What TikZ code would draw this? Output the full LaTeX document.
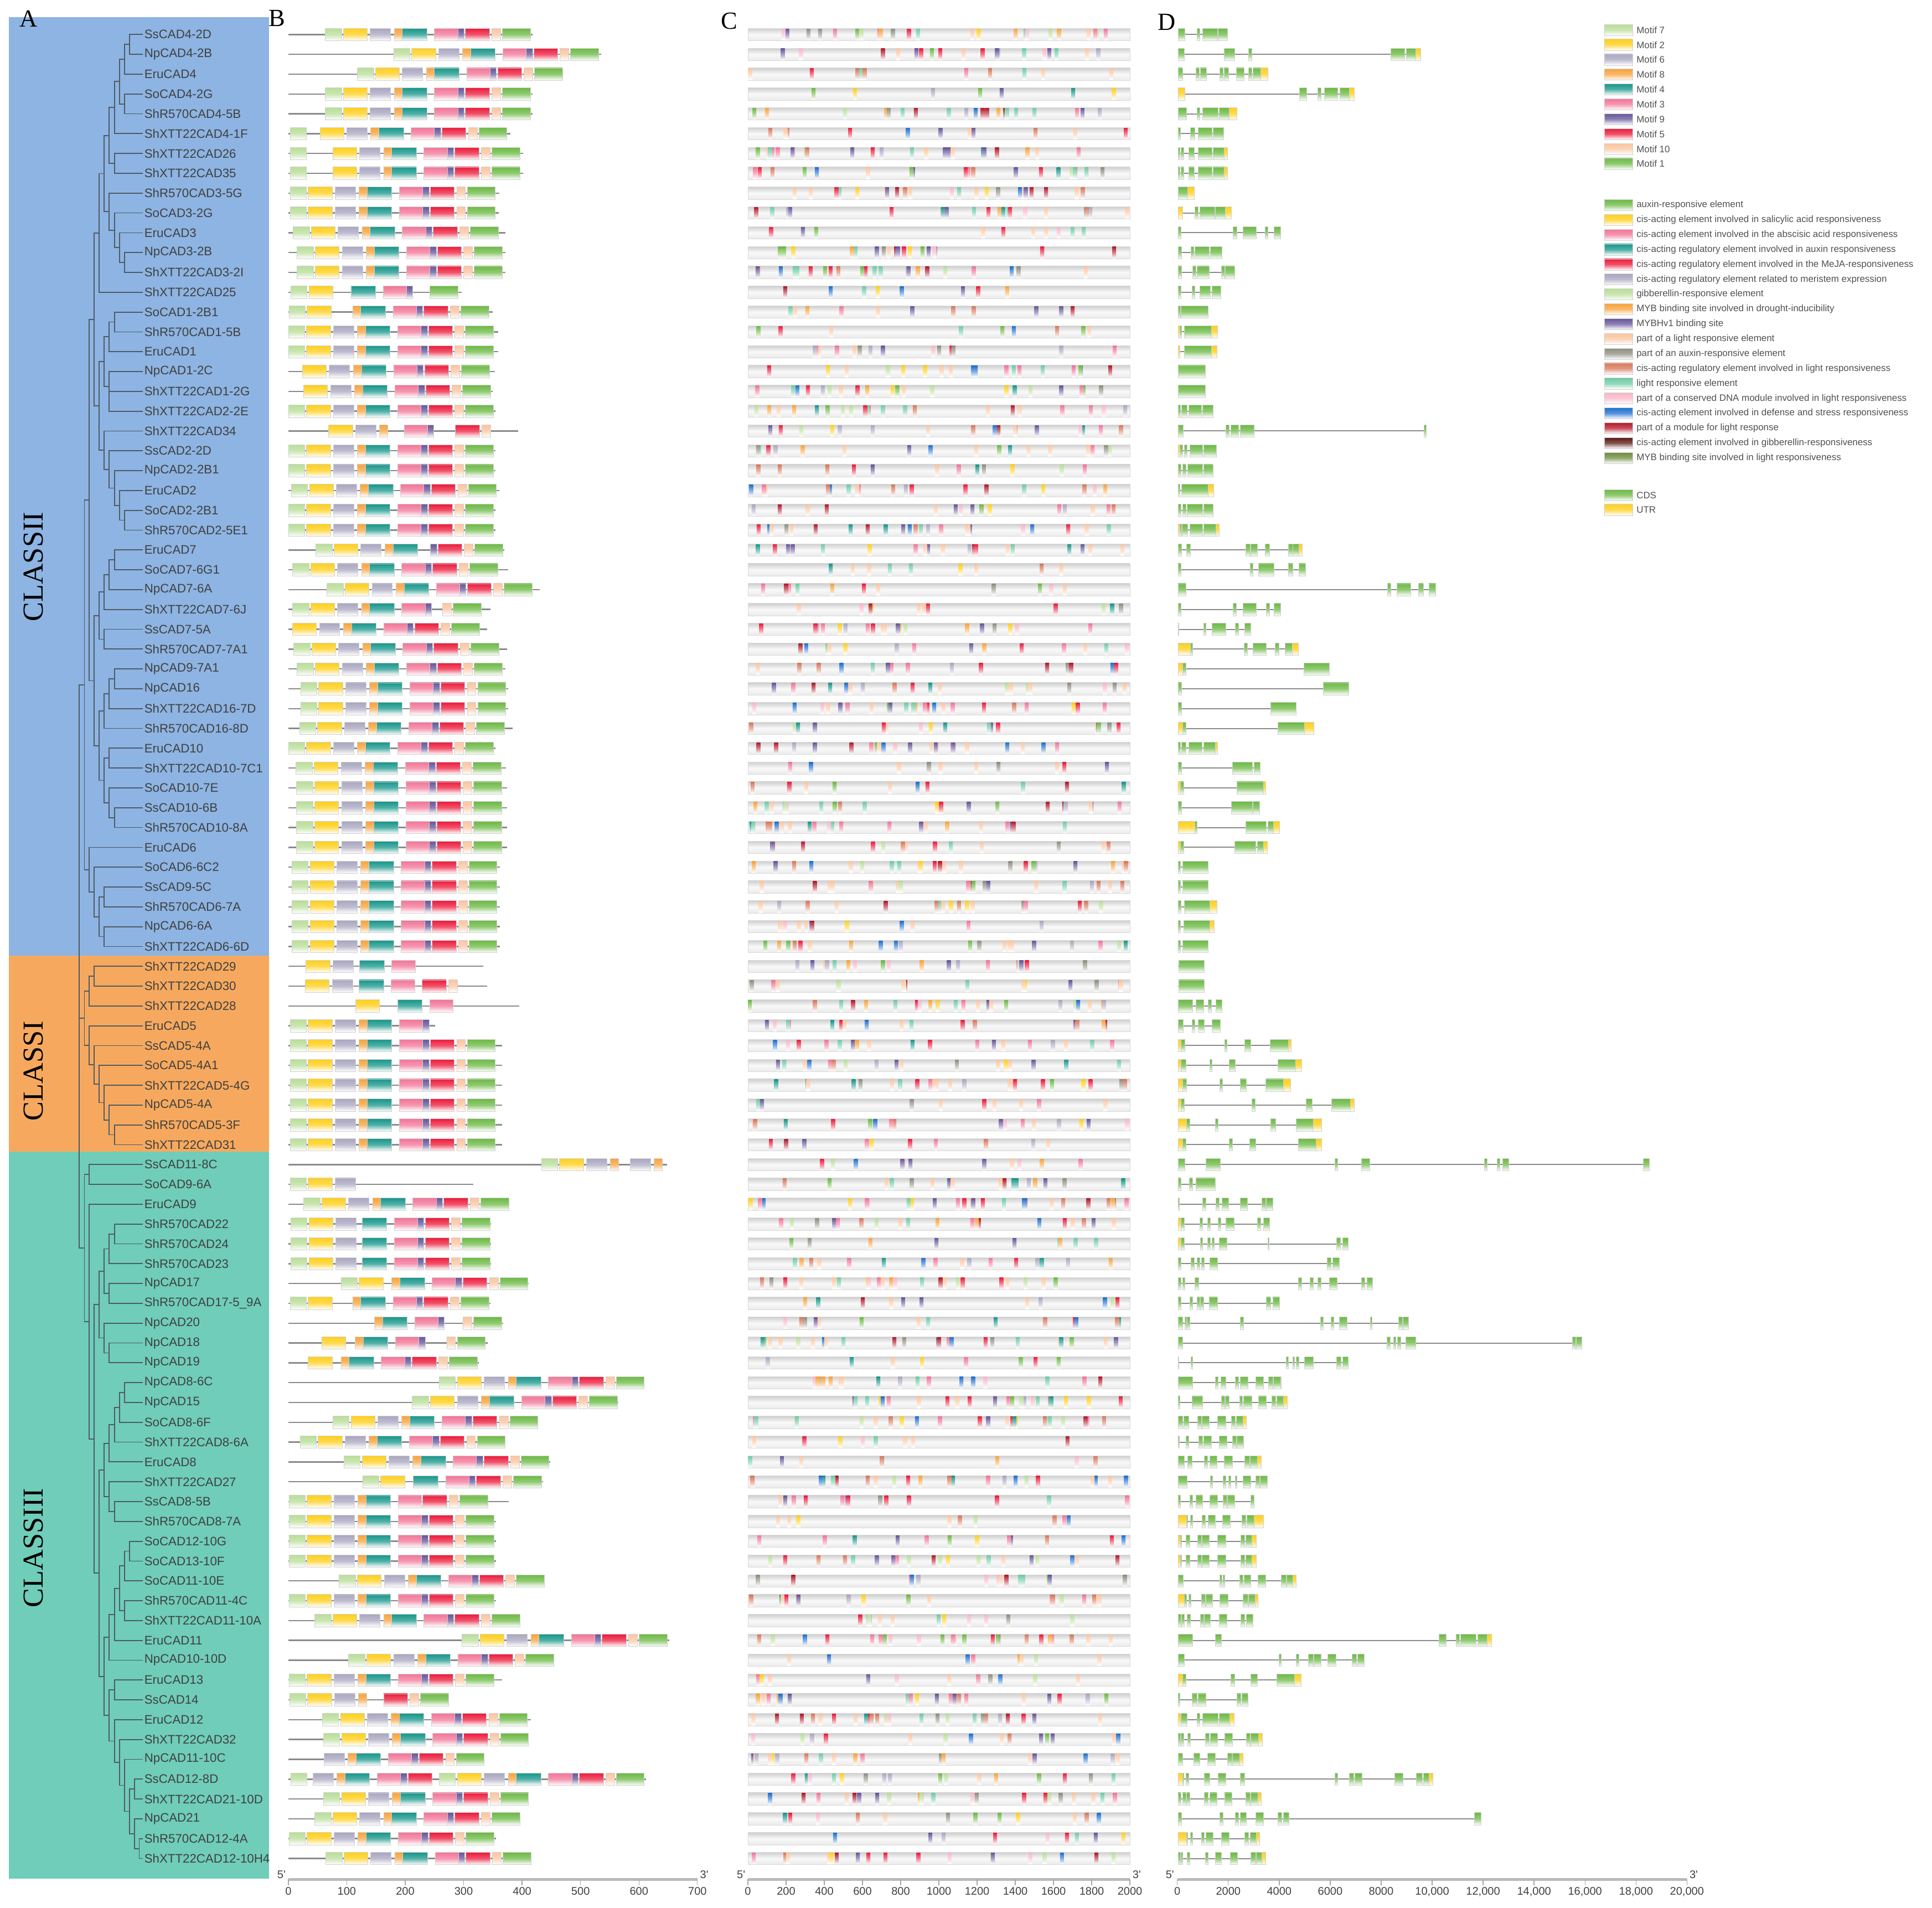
\documentclass[tikz,border=0pt]{standalone}
\usepackage{fontspec}
\setmainfont{Liberation Serif}
\newfontfamily\sansf{Liberation Sans}
\usetikzlibrary{calc}

\definecolor{clsII}{HTML}{8DB4E2}
\definecolor{clsI}{HTML}{F6A95E}
\definecolor{clsIII}{HTML}{6FCDBA}
\definecolor{treegray}{HTML}{4F5A66}
\definecolor{labgray}{HTML}{404040}
\definecolor{leggray}{HTML}{505050}
\definecolor{boxline}{HTML}{D0D0D0}
\definecolor{bonegray}{HTML}{8A8A8A}
\definecolor{mcol7}{HTML}{B9DE98}
\definecolor{mcol2}{HTML}{FFCF1A}
\definecolor{mcol6}{HTML}{A9A6C0}
\definecolor{mcol8}{HTML}{F8A33A}
\definecolor{mcol4}{HTML}{17968A}
\definecolor{mcol3}{HTML}{F27597}
\definecolor{mcol9}{HTML}{66569A}
\definecolor{mcol5}{HTML}{EC1B3B}
\definecolor{mcol10}{HTML}{FBC5A0}
\definecolor{mcol1}{HTML}{6CB944}
\definecolor{ec1}{HTML}{6CB944}
\definecolor{ec2}{HTML}{FFCF1A}
\definecolor{ec3}{HTML}{F27597}
\definecolor{ec4}{HTML}{17968A}
\definecolor{ec5}{HTML}{EC1B3B}
\definecolor{ec6}{HTML}{A9A6C0}
\definecolor{ec7}{HTML}{B9DE98}
\definecolor{ec8}{HTML}{F8A33A}
\definecolor{ec9}{HTML}{66569A}
\definecolor{ec10}{HTML}{FBC5A0}
\definecolor{ec11}{HTML}{8E8E80}
\definecolor{ec12}{HTML}{D9775A}
\definecolor{ec13}{HTML}{6FCBA5}
\definecolor{ec14}{HTML}{F7B6C8}
\definecolor{ec15}{HTML}{1F6FD0}
\definecolor{ec16}{HTML}{B3182A}
\definecolor{ec17}{HTML}{5A1A12}
\definecolor{ec18}{HTML}{6E8B3D}
\definecolor{xc}{HTML}{6CB944}
\definecolor{xu}{HTML}{FFCF1A}
\colorlet{cc1}{ec10}\colorlet{cc2}{ec10}\colorlet{cc3}{ec10}\colorlet{cc4}{ec3}
\colorlet{cc5}{ec3}\colorlet{cc6}{ec5}\colorlet{cc7}{ec5}\colorlet{cc8}{ec7}
\colorlet{cc9}{ec9}\colorlet{cc10}{ec1}\colorlet{cc11}{ec13}\colorlet{cc12}{ec13}
\colorlet{cc13}{ec8}\colorlet{cc14}{ec6}\colorlet{cc15}{ec9}\colorlet{cc16}{ec2}
\colorlet{cc17}{ec4}\colorlet{cc18}{ec12}\colorlet{cc19}{ec12}\colorlet{cc20}{ec14}
\colorlet{cc21}{ec15}\colorlet{cc22}{ec16}\colorlet{cc23}{ec11}\colorlet{cc24}{ec10}

\tikzset{
  branch/.style={draw=treegray, line width=0.8pt},
  gene/.style={anchor=west, inner sep=1pt, text=labgray, font=\sansf\fontsize{10}{10}\selectfont},
  classlab/.style={rotate=90, inner sep=0pt, font=\fontsize{23.5}{24}\selectfont},
  panlab/.style={inner sep=0pt, font=\fontsize{20}{20}\selectfont},
  blk/.style={draw=boxline, line width=0.25pt, top color=#1, bottom color=white, middle color=#1!75!white},
  tick/.style={top color=#1, bottom color=white, middle color=#1!55!white, draw=none},
  bone/.style={draw=bonegray, line width=1.1pt},
  intron/.style={draw=bonegray, line width=0.9pt},
  cbar/.style={draw=gray!30, line width=0.3pt, top color=gray!38, bottom color=gray!16, middle color=gray!5},
  legtxt/.style={anchor=west, inner sep=0pt, text=leggray, font=\sansf\fontsize{7.6}{8}\selectfont},
  axlab/.style={inner sep=1pt, text=labgray, font=\sansf\fontsize{9}{9}\selectfont},
  axline/.style={draw=gray!55, line width=2pt},
  axtick/.style={draw=gray!70, line width=0.6pt},
}

\newcommand\ry[1]{(28+(#1-1)*16.087)}
\newcommand\clade[4]{%
  \path let \p1=(#3), \p2=(#4) in coordinate (#1) at (#2,{(\y1+\y2)/2});
  \draw[branch] (#1) |- (#3);
  \draw[branch] (#1) |- (#4);}

\def\motdef#1#2#3{\expandafter\def\csname motrel#1\endcsname{#2}\expandafter\def\csname motlen#1\endcsname{#3}}
\motdef{7}{0}{28}\motdef{2}{31}{41}\motdef{6}{77}{35}\motdef{8}{118}{14}\motdef{4}{132}{42}
\motdef{3}{187}{40}\motdef{9}{227}{11}\motdef{5}{240}{41}\motdef{10}{285}{15}\motdef{1}{303}{48}
\def\full{7,2,6,8,4,3,9,5,10,1}
\def\nosev{2,6,8,4,3,9,5,10,1}
\newcommand\motifs[3]{%
  \edef\mlist{#3}%
  \foreach \m in \mlist {%
    \pgfmathsetmacro\xa{#2+\csname motrel\m\endcsname}%
    \pgfmathsetmacro\xb{\xa+\csname motlen\m\endcsname}%
    \draw[blk=mcol\m] (\xa,{\ry{#1}-5}) rectangle (\xb,{\ry{#1}+5});
  }}
\newcommand\prot[4]{%
  \draw[bone] (0,{\ry{#1}}) -- (#2,{\ry{#1}});
  \motifs{#1}{#3}{#4}}
\newcommand\gene[3]{%
  \draw[intron] (30,{\ry{#1}}) -- (#2,{\ry{#1}});
  \foreach \sa/\eb/\ty in {#3} {\draw[blk=x\ty] (\sa,{\ry{#1}-5}) rectangle (\eb,{\ry{#1}+5});}}

\begin{document}
\begin{tikzpicture}[x=1pt, y=-1pt]
\useasboundingbox (0,0) rectangle (1568,1548);

% class backgrounds
\fill[clsII] (7,14) rectangle (218.5,775.5);
\fill[clsI] (7,775.5) rectangle (218.5,934.5);
\fill[clsIII] (7,934.5) rectangle (218.5,1524.5);

\node[panlab] (pA) at (23,15) {A};
\node[panlab] (pB) at (225,15) {B};
\node[panlab] (pC) at (592,17) {C};
\node[panlab] (pD) at (947,18) {D};

\node[classlab] (cII) at (27,460) {CLASSII};
\node[classlab] (cI) at (27,869) {CLASSI};
\node[classlab] (cIII) at (27,1256) {CLASSIII};

\foreach \nm [count=\ii] in {SsCAD4-2D,NpCAD4-2B,EruCAD4,SoCAD4-2G,ShR570CAD4-5B,ShXTT22CAD4-1F,
  ShXTT22CAD26,ShXTT22CAD35,ShR570CAD3-5G,SoCAD3-2G,EruCAD3,NpCAD3-2B,ShXTT22CAD3-2I,ShXTT22CAD25,
  SoCAD1-2B1,ShR570CAD1-5B,EruCAD1,NpCAD1-2C,ShXTT22CAD1-2G,ShXTT22CAD2-2E,ShXTT22CAD34,SsCAD2-2D,
  NpCAD2-2B1,EruCAD2,SoCAD2-2B1,ShR570CAD2-5E1,EruCAD7,SoCAD7-6G1,NpCAD7-6A,ShXTT22CAD7-6J,SsCAD7-5A,
  ShR570CAD7-7A1,NpCAD9-7A1,NpCAD16,ShXTT22CAD16-7D,ShR570CAD16-8D,EruCAD10,ShXTT22CAD10-7C1,
  SoCAD10-7E,SsCAD10-6B,ShR570CAD10-8A,EruCAD6,SoCAD6-6C2,SsCAD9-5C,ShR570CAD6-7A,NpCAD6-6A,
  ShXTT22CAD6-6D,ShXTT22CAD29,ShXTT22CAD30,ShXTT22CAD28,EruCAD5,SsCAD5-4A,SoCAD5-4A1,ShXTT22CAD5-4G,
  NpCAD5-4A,ShR570CAD5-3F,ShXTT22CAD31,SsCAD11-8C,SoCAD9-6A,EruCAD9,ShR570CAD22,ShR570CAD24,
  ShR570CAD23,NpCAD17,ShR570CAD17-5\_9A,NpCAD20,NpCAD18,NpCAD19,NpCAD8-6C,NpCAD15,SoCAD8-6F,
  ShXTT22CAD8-6A,EruCAD8,ShXTT22CAD27,SsCAD8-5B,ShR570CAD8-7A,SoCAD12-10G,SoCAD13-10F,SoCAD11-10E,
  ShR570CAD11-4C,ShXTT22CAD11-10A,EruCAD11,NpCAD10-10D,EruCAD13,SsCAD14,EruCAD12,ShXTT22CAD32,
  NpCAD11-10C,SsCAD12-8D,ShXTT22CAD21-10D,NpCAD21,ShR570CAD12-4A,ShXTT22CAD12-10H4}
  \node[gene] (g\ii) at (116,{\ry{\ii}}) {\nm};

% tree
\clade{a1}{105}{g1}{g2}\clade{a2}{101}{a1}{g3}\clade{a3}{101}{g4}{g5}\clade{a4}{97}{a2}{a3}
\clade{a5}{93}{a4}{g6}\clade{a6}{93}{g7}{g8}\clade{a7}{88.6}{a5}{a6}
\clade{b1}{101}{g12}{g13}\clade{b2}{97}{g11}{b1}\clade{b3}{93}{g10}{b2}\clade{b4}{88.6}{g9}{b3}
\clade{a8}{84.6}{a7}{b4}\clade{a9}{80.5}{a8}{g14}
\clade{c1}{93}{g15}{g16}\clade{c2}{88.6}{c1}{g17}\clade{c3}{88.6}{g19}{g20}\clade{c4}{88.6}{g18}{c3}
\clade{c5}{84.6}{c2}{c4}
\clade{d1}{101}{g25}{g26}\clade{d2}{97}{g24}{d1}\clade{d3}{93}{g23}{d2}\clade{d4}{88.6}{g22}{d3}
\clade{d5}{84.6}{g21}{d4}\clade{c6}{80.5}{c5}{d5}\clade{e1}{76.5}{a9}{c6}
\clade{f1}{93}{g27}{g28}\clade{f2}{88.6}{f1}{g29}\clade{f3}{84.6}{f2}{g30}\clade{f4}{84.6}{g31}{g32}
\clade{f5}{80.5}{f3}{f4}
\clade{j1}{93}{g33}{g34}\clade{j2}{88.6}{j1}{g35}\clade{j3}{84.6}{j2}{g36}
\clade{h1}{88.6}{g37}{g38}\clade{h2}{93}{g40}{g41}\clade{h3}{88.6}{g39}{h2}\clade{h4}{84.6}{h1}{h3}
\clade{j4}{80.5}{j3}{h4}\clade{f6}{76.5}{f5}{j4}\clade{k1}{72.5}{e1}{f6}
\clade{m1}{84.6}{g44}{g45}\clade{m2}{84.6}{g46}{g47}\clade{m3}{80.5}{m1}{m2}\clade{m4}{76.5}{g43}{m3}
\clade{m5}{72.5}{g42}{m4}\clade{k2}{68.5}{k1}{m5}
\clade{p1}{76.5}{g48}{g49}\clade{p2}{72.5}{p1}{g50}
\clade{q1}{93}{g56}{g57}\clade{q2}{88.6}{g55}{q1}\clade{q3}{84.6}{g54}{q2}\clade{q4}{80.5}{g53}{q3}
\clade{q5}{76.5}{g52}{q4}\clade{q6}{72.5}{g51}{q5}\clade{p3}{68.5}{p2}{q6}
\clade{y1}{72.5}{g58}{g59}
\clade{r1}{93}{g61}{g62}\clade{r2}{88.6}{r1}{g63}\clade{r3}{88.6}{g64}{g65}\clade{r4}{84.6}{r2}{r3}
\clade{r5}{88.6}{g67}{g68}\clade{r6}{84.6}{g66}{r5}\clade{r7}{80.5}{r4}{r6}
\clade{s1}{101}{g69}{g70}\clade{s2}{97}{s1}{g71}\clade{s3}{93}{s2}{g72}\clade{s4}{88.6}{s3}{g73}
\clade{s5}{93}{g75}{g76}\clade{s6}{88.6}{g74}{s5}\clade{s7}{84.6}{s4}{s6}
\clade{u1}{105}{g77}{g78}\clade{u2}{101}{u1}{g79}\clade{u3}{101}{g80}{g81}\clade{u4}{97}{u2}{u3}
\clade{u5}{93}{u4}{g82}\clade{u6}{88.6}{u5}{g83}
\clade{v1}{93}{g84}{g85}
\clade{w1}{113}{g92}{g93}\clade{w2}{109}{g91}{w1}\clade{w3}{109}{g89}{g90}\clade{w4}{105}{w3}{w2}
\clade{w5}{101}{g88}{w4}\clade{w6}{97}{g87}{w5}\clade{w7}{93}{g86}{w6}\clade{w8}{88.6}{v1}{w7}
\clade{x1}{84.6}{u6}{w8}\clade{x2}{80.5}{s7}{x1}\clade{x3}{76.5}{r7}{x2}\clade{x4}{72.5}{g60}{x3}
\clade{x5}{68.5}{y1}{x4}
\clade{z1}{64.2}{p3}{x5}\clade{z0}{64.2}{k2}{z1}

% B: motifs
\begin{scope}[shift={(234,0)}, xscale=0.4743]
\prot{1}{418}{63}{\full}
\prot{2}{535}{180}{\full}
\prot{3}{468}{118}{\full}
\prot{4}{418}{63}{\full}
\prot{5}{418}{63}{\full}
\prot{6}{380}{23}{\nosev}\motifs{6}{3}{7}
\prot{7}{402}{45}{\nosev}\motifs{7}{3}{7}
\prot{8}{402}{45}{\nosev}\motifs{8}{3}{7}
\prot{9}{361}{3}{\full}
\prot{10}{360}{3}{\full}
\prot{11}{371}{8}{\full}
\prot{12}{371}{15}{\full}
\prot{13}{371}{15}{\full}
\prot{14}{297}{4}{7,2}\motifs{14}{-25}{4,3,9}\motifs{14}{-61}{1}
\prot{15}{350}{1}{7,2}\motifs{15}{-8}{8,4,3,9,5,10,1}
\prot{16}{359}{0}{\full}
\prot{17}{359}{0}{\full}
\prot{18}{353}{-7}{\nosev}
\prot{19}{350}{-5}{\nosev}
\prot{20}{354}{0}{\full}
\prot{21}{393}{38}{2,6,8}\motifs{21}{11}{3,9}\motifs{21}{46}{5,10}
\prot{22}{354}{0}{\full}
\prot{23}{354}{0}{\full}
\prot{24}{361}{5}{\full}
\prot{25}{354}{0}{\full}
\prot{26}{354}{0}{\full}
\prot{27}{370}{47}{7,2,6,8,4}\motifs{27}{16}{9,5,10,1}
\prot{28}{376}{7}{\full}
\prot{29}{430}{66}{\full}
\prot{30}{346}{7}{7,2,6,8,4,3,9}\motifs{30}{-21}{10,1}
\prot{31}{340}{-24}{\nosev}
\prot{32}{374}{9}{\full}
\prot{33}{371}{15}{\full}
\prot{34}{376}{21}{\full}
\prot{35}{376}{21}{\full}
\prot{36}{384}{19}{\full}
\prot{37}{354}{0}{\full}
\prot{38}{372}{13}{\full}
\prot{39}{374}{14}{\full}
\prot{40}{374}{14}{\full}
\prot{41}{374}{14}{\full}
\prot{42}{374}{14}{\full}
\prot{43}{362}{6}{\full}
\prot{44}{362}{6}{\full}
\prot{45}{362}{6}{\full}
\prot{46}{362}{6}{\full}
\prot{47}{362}{6}{\full}
\prot{48}{334}{-1}{2,6}\motifs{48}{-10}{4,3}
\prot{49}{340}{-2}{2,6}\motifs{49}{-11}{4,3,5,10}
\prot{50}{395}{84}{2}\motifs{50}{55}{4,3}
\prot{51}{251}{3}{7,2,6,8,4,3,9}
\prot{52}{366}{3}{\full}
\prot{53}{366}{3}{\full}
\prot{54}{366}{3}{\full}
\prot{55}{366}{3}{\full}
\prot{56}{366}{3}{\full}
\prot{57}{366}{3}{\full}
\prot{58}{648}{433}{7,2,6,8}\motifs{58}{508}{6,8}
\prot{59}{317}{3}{7,2,6}
\prot{60}{377}{26}{\full}
\prot{61}{347}{4}{7,2,6}\motifs{61}{-6}{4,3,9,5,10,1}
\prot{62}{347}{4}{7,2,6}\motifs{62}{-6}{4,3,9,5,10,1}
\prot{63}{347}{4}{7,2,6}\motifs{63}{-6}{4,3,9,5,10,1}
\prot{64}{411}{90}{7,2}\motifs{64}{59}{8,4,3,9,5,10,1}
\prot{65}{346}{3}{7,2}\motifs{65}{-8}{8,4,3,9,5,10,1}
\prot{66}{368}{29}{8,4,3,9}\motifs{66}{14}{10,1}
\prot{67}{341}{26}{2}\motifs{67}{-4}{8,4,3,9}\motifs{67}{-14}{10,1}
\prot{68}{326}{3}{2}\motifs{68}{-28}{8,4,3,9,5,10,1}
\prot{69}{609}{258}{\full}
\prot{70}{565}{212}{\full}
\prot{71}{425}{76}{\full}
\prot{72}{371}{20}{\full}
\prot{73}{448}{95}{\full}
\prot{74}{436}{127}{7,2}\motifs{74}{82}{4,3,9,5,10,1}
\prot{75}{377}{1}{7,2,6,8,4,3}\motifs{75}{-10}{5,10,1}
\prot{76}{355}{1}{\full}
\prot{77}{355}{1}{\full}
\prot{78}{355}{1}{\full}
\prot{79}{439}{87}{\full}
\prot{80}{355}{1}{\full}
\prot{81}{397}{45}{\full}
\prot{82}{652}{297}{\full}
\prot{83}{454}{103}{\full}
\prot{84}{366}{1}{\full}
\prot{85}{275}{2}{7,2,6,8}\motifs{85}{-77}{5,10,1}
\prot{86}{415}{58}{\full}
\prot{87}{411}{60}{\full}
\prot{88}{335}{-16}{6,8,4,3,9,5,10,1}
\prot{89}{612}{258}{\full}\motifs{89}{-35}{6,8,4,3,9,5}\motifs{89}{4}{7}
\prot{90}{411}{60}{\full}
\prot{91}{394}{45}{\full}
\prot{92}{355}{1}{\full}
\prot{93}{415}{64}{\full}
\end{scope}

% C: promoter elements
\begin{scope}[shift={(607,0)}, xscale=0.155]
\pgfmathsetseed{11}
\foreach \rw in {1,...,93}{
  \draw[cbar] (0,{\ry{\rw}-5}) rectangle (2000,{\ry{\rw}+5});
  \pgfmathrandominteger{\nt}{8}{24}
  \foreach \kk in {1,...,\nt}{
    \pgfmathrandominteger{\px}{0}{1975}
    \pgfmathrandominteger{\ci}{1}{24}
    \path[tick=cc\ci] (\px,{\ry{\rw}-4.6}) rectangle ++(20,9.2);
  }
}
\end{scope}

% D: gene structure
\begin{scope}[shift={(948.4,0)}, xscale=0.2521]
\gene{1}{190}{30/52/c,92/100/c,110/157/c,160/190/c}
\gene{2}{812}{30/50/c,178/212/c,258/268/c,715/760/c,765/795/c,795/812/u}
\gene{3}{320}{30/45/c,88/98/c,102/122/c,165/175/c,178/193/c,218/243/c,258/268/c,272/297/c,297/320/u}
\gene{4}{598}{30/52/u,422/445/c,480/490/c,502/545/c,552/582/c,582/598/u}
\gene{5}{220}{30/58/c,92/100/c,110/160/c,163/195/c,195/220/u}
\gene{6}{177}{30/38/c,70/85/c,95/140/c,143/177/c}
\gene{7}{190}{30/36/c,40/48/c,65/82/c,95/140/c,143/178/c,178/190/u}
\gene{8}{190}{30/36/c,40/48/c,65/82/c,95/140/c,143/178/c,178/190/u}
\gene{9}{82}{30/62/c,62/82/u}
\gene{10}{202}{30/45/u,85/95/c,100/148/c,150/183/c,183/202/u}
\gene{11}{360}{30/40/c,208/220/c,240/282/c,310/320/c,340/360/c}
\gene{12}{172}{30/42/c,72/80/c,85/130/c,135/172/c}
\gene{13}{212}{30/42/c,78/88/c,92/130/c,170/180/c,182/212/c}
\gene{14}{168}{30/40/c,75/85/c,100/135/c,140/168/c}
\gene{15}{128}{30/38/c,40/128/c}
\gene{16}{158}{30/37/u,37/41/c,50/138/c,138/158/u}
\gene{17}{155}{30/37/u,50/138/c,138/155/u}
\gene{18}{118}{30/118/c}
\gene{19}{118}{30/118/c}
\gene{20}{143}{30/38/c,42/60/c,65/105/c,110/143/c}
\gene{21}{830}{30/47/c,185/195/c,200/225/c,230/275/c,822/830/c}
\gene{22}{153}{30/37/u,37/45/c,50/60/c,68/110/c,112/153/c}
\gene{23}{143}{30/40/c,45/55/c,62/110/c,113/143/c}
\gene{24}{145}{30/37/c,42/128/c,128/145/u}
\gene{25}{143}{30/40/c,45/55/c,60/110/c,113/143/c}
\gene{26}{162}{30/36/u,36/42/c,44/62/c,68/110/c,113/152/c,152/162/u}
\gene{27}{430}{30/42/c,58/70/c,248/262/c,265/285/c,310/325/c,385/400/c,400/420/c,420/430/u}
\gene{28}{440}{30/40/c,262/272/c,290/340/c,385/400/c,420/440/c}
\gene{29}{860}{30/55/c,705/715/c,735/780/c,805/820/c,838/860/c}
\gene{30}{360}{30/40/c,208/218/c,240/282/c,315/325/c,340/360/c}
\gene{31}{265}{30/33/c,112/120/c,140/185/c,215/225/c,245/265/c}
\gene{32}{418}{30/70/u,70/78/c,243/253/c,272/315/c,343/355/c,375/398/c,398/418/u}
\gene{33}{517}{30/45/u,45/55/c,435/517/c}
\gene{34}{580}{30/42/c,498/580/c}
\gene{35}{410}{30/42/c,328/410/c}
\gene{36}{468}{30/45/u,45/55/c,352/437/c,437/468/u}
\gene{37}{157}{30/38/c,42/55/c,65/108/c,113/150/c,150/157/u}
\gene{38}{295}{30/42/c,205/270/c,275/295/c}
\gene{39}{313}{30/38/u,38/48/c,220/305/c,305/313/u}
\gene{40}{292}{30/42/c,202/270/c,272/292/c}
\gene{41}{357}{30/85/u,85/92/c,248/315/c,320/337/c,337/357/u}
\gene{42}{318}{30/38/u,38/48/c,213/280/c,285/305/c,305/318/u}
\gene{43}{128}{30/38/c,45/128/c}
\gene{44}{128}{30/38/c,45/128/c}
\gene{45}{155}{30/40/c,50/132/c,132/155/u}
\gene{46}{146}{30/38/c,48/132/c,132/146/u}
\gene{47}{128}{30/38/c,45/128/c}
\gene{48}{115}{32/115/c}
\gene{49}{115}{32/115/c}
\gene{50}{172}{30/78/c,88/113/c,128/138/c,152/172/c}
\gene{51}{167}{30/47/c,75/85/c,95/115/c,140/167/c}
\gene{52}{395}{30/40/u,40/52/c,180/188/c,245/265/c,327/385/c,385/395/u}
\gene{53}{428}{30/40/u,40/55/c,132/140/c,195/215/c,352/408/c,408/428/u}
\gene{54}{393}{30/45/u,45/58/c,165/173/c,230/250/c,313/370/c,370/393/u}
\gene{55}{598}{30/40/u,40/50/c,268/278/c,442/462/c,525/585/c,585/598/u}
\gene{56}{493}{30/58/u,58/68/c,150/160/c,328/345/c,410/465/c,465/493/u}
\gene{57}{492}{30/45/u,45/55/c,195/205/c,260/280/c,417/475/c,475/492/u}
\gene{58}{1548}{30/52/c,120/167/c,535/545/c,620/648/c,1017/1025/c,1057/1067/c,1075/1095/c,1528/1548/c}
\gene{59}{150}{30/40/c,67/77/c,88/150/c}
\gene{60}{335}{30/35/c,110/120/c,152/162/c,172/193/c,230/253/c,300/312/c,315/335/c}
\gene{61}{325}{30/40/u,40/50/c,100/110/c,125/135/c,160/168/c,185/210/c,285/297/c,305/325/c}
\gene{62}{578}{30/40/u,40/50/c,103/110/c,125/135/c,140/147/c,163/188/c,320/323/c,540/553/c,560/578/c}
\gene{63}{550}{30/40/c,72/82/c,92/100/c,105/115/c,133/158/c,510/522/c,528/550/c}
\gene{64}{657}{30/40/c,45/52/c,85/97/c,418/428/c,455/465/c,480/490/c,518/543/c,620/632/c,638/657/c}
\gene{65}{357}{30/40/c,68/78/c,92/100/c,102/112/c,130/157/c,315/328/c,335/357/c}
\gene{66}{772}{30/45/c,52/58/c,60/68/c,230/242/c,488/498/c,522/532/c,550/575/c,650/655/c,740/752/c,755/772/c}
\gene{67}{1330}{30/45/c,703/713/c,725/732/c,737/747/c,763/795/c,1300/1310/c,1313/1330/c}
\gene{68}{578}{30/32/c,72/78/c,378/385/c,400/405/c,410/420/c,438/465/c,540/555/c,560/578/c}
\gene{69}{363}{30/77/c,150/160/c,168/185/c,215/225/c,230/255/c,280/305/c,322/335/c,338/360/c,360/363/u}
\gene{70}{382}{30/37/c,75/110/c,170/180/c,183/195/c,228/238/c,242/268/c,290/315/c,332/345/c,348/370/c,370/382/u}
\gene{71}{250}{30/45/c,48/65/c,93/105/c,108/130/c,158/185/c,202/215/c,218/240/c,240/250/u}
\gene{72}{242}{30/35/c,55/65/c,97/110/c,113/138/c,163/188/c,205/218/c,220/242/c}
\gene{73}{298}{30/50/c,62/75/c,115/125/c,133/155/c,178/205/c,245/260/c,263/285/c,285/298/u}
\gene{74}{318}{30/60/c,135/142/c,175/185/c,193/200/c,215/220/c,240/265/c,280/293/c,295/318/c}
\gene{75}{275}{30/38/c,68/78/c,88/110/c,133/158/c,175/188/c,190/212/c,265/275/c}
\gene{76}{305}{30/58/u,58/62/c,70/78/c,108/118/c,128/150/c,173/198/c,235/248/c,252/275/c,275/305/u}
\gene{77}{282}{30/38/u,38/42/c,55/68/c,93/105/c,108/130/c,157/185/c,232/245/c,248/268/c,268/282/u}
\gene{78}{282}{30/38/u,38/42/c,55/68/c,93/105/c,108/130/c,157/185/c,232/245/c,248/268/c,268/282/u}
\gene{79}{410}{30/47/c,165/172/c,175/180/c,228/240/c,243/265/c,288/313/c,362/378/c,380/400/c,400/410/u}
\gene{80}{288}{30/50/u,50/58/c,65/72/c,105/118/c,120/142/c,165/192/c,240/255/c,258/278/c,278/288/u}
\gene{81}{272}{30/40/c,42/50/c,60/70/c,102/112/c,115/135/c,162/188/c,233/245/c,250/272/c}
\gene{82}{1040}{30/77/c,150/170/c,870/893/c,925/937/c,940/990/c,995/1025/c,1025/1040/u}
\gene{83}{630}{30/50/c,355/362/c,410/420/c,450/465/c,468/490/c,512/538/c,590/605/c,608/630/c}
\gene{84}{427}{30/45/u,45/55/c,200/212/c,265/285/c,348/405/c,405/427/u}
\gene{85}{255}{30/37/c,75/92/c,95/120/c,220/232/c,235/255/c}
\gene{86}{210}{30/40/u,40/60/c,92/100/c,110/160/c,163/197/c,197/210/u}
\gene{87}{302}{30/38/c,40/48/c,62/70/c,118/130/c,135/158/c,180/205/c,250/262/c,265/290/c,290/302/u}
\gene{88}{240}{30/45/c,80/100/c,125/150/c,190/203/c,205/228/c,228/240/u}
\gene{89}{850}{30/45/u,45/48/c,55/65/c,115/132/c,160/185/c,230/245/c,535/545/c,582/595/c,600/622/c,728/755/c,797/817/c,820/838/c,838/850/u}
\gene{90}{298}{30/40/c,45/55/c,58/68/c,115/128/c,133/155/c,180/203/c,248/262/c,265/287/c,287/298/u}
\gene{91}{1005}{30/42/c,165/175/c,215/225/c,230/250/c,280/305/c,352/365/c,370/388/c,985/1005/c}
\gene{92}{292}{30/58/u,58/62/c,70/78/c,105/115/c,120/143/c,170/195/c,245/258/c,262/282/c,282/292/u}
\gene{93}{313}{30/38/c,40/45/c,60/68/c,118/128/c,150/170/c,198/222/c,265/280/c,283/300/c,300/313/u}
\end{scope}

% axes
\draw[axline] (234,1525) -- (566,1525);
\foreach \val in {0,100,...,700}
  \draw[axtick] ({234+\val*0.4743},1525) -- ++(0,5) node[axlab, below] {\val};
\node[axlab, anchor=east] (b5) at (233,1521) {5'};
\node[axlab, anchor=west] (b3) at (567,1521) {3'};
\draw[axline] (607,1525) -- (917,1525);
\foreach \val in {0,200,...,2000}
  \draw[axtick] ({607+\val*0.155},1525) -- ++(0,5) node[axlab, below] {\val};
\node[axlab, anchor=east] (c5) at (606,1521) {5'};
\node[axlab, anchor=west] (c3) at (918,1521) {3'};
\draw[axline] (955.5,1525) -- (1369,1525);
\foreach \val/\tx in {0/0,2/2000,4/4000,6/6000,8/8000,10/{10,000},12/{12,000},
    14/{14,000},16/{16,000},18/{18,000},20/{20,000}}
  \draw[axtick] ({955.5+\val*20.68},1525) -- ++(0,5) node[axlab, below] {\tx};
\node[axlab, anchor=east] (d5) at (954,1521) {5'};
\node[axlab, anchor=west] (d3) at (1370,1521) {3'};

% legends
\foreach \cl/\tx [count=\ii] in {mcol7/Motif 7,mcol2/Motif 2,mcol6/Motif 6,mcol8/Motif 8,mcol4/Motif 4,
    mcol3/Motif 3,mcol9/Motif 9,mcol5/Motif 5,mcol10/Motif 10,mcol1/Motif 1}{
  \draw[blk=\cl] (1302,{24.3+(\ii-1)*12.07-4.5}) rectangle ++(23,9);
  \node[legtxt] (lm\ii) at (1328,{24.3+(\ii-1)*12.07}) {\tx};
}
\foreach \tx [count=\ii] in {auxin-responsive element,
    cis-acting element involved in salicylic acid responsiveness,
    cis-acting element involved in the abscisic acid responsiveness,
    cis-acting regulatory element involved in auxin responsiveness,
    cis-acting regulatory element involved in the MeJA-responsiveness,
    cis-acting regulatory element related to meristem expression,
    gibberellin-responsive element,
    MYB binding site involved in drought-inducibility,
    MYBHv1 binding site,
    part of a light responsive element,
    part of an auxin-responsive element,
    cis-acting regulatory element involved in light responsiveness,
    light responsive element,
    part of a conserved DNA module involved in light responsiveness,
    cis-acting element involved in defense and stress responsiveness,
    part of a module for light response,
    cis-acting element involved in gibberellin-responsiveness,
    MYB binding site involved in light responsiveness}{
  \draw[blk=ec\ii] (1302,{166.4+(\ii-1)*12.07-4.5}) rectangle ++(23,9);
  \node[legtxt] (le\ii) at (1328,{166.4+(\ii-1)*12.07}) {\tx};
}
\draw[blk=xc] (1302,{401.8-4.5}) rectangle ++(23,9);
\node[legtxt] (lcds) at (1328,401.8) {CDS};
\draw[blk=xu] (1302,{413.7-4.5}) rectangle ++(23,9);
\node[legtxt] (lutr) at (1328,413.7) {UTR};
\end{tikzpicture}
\end{document}
